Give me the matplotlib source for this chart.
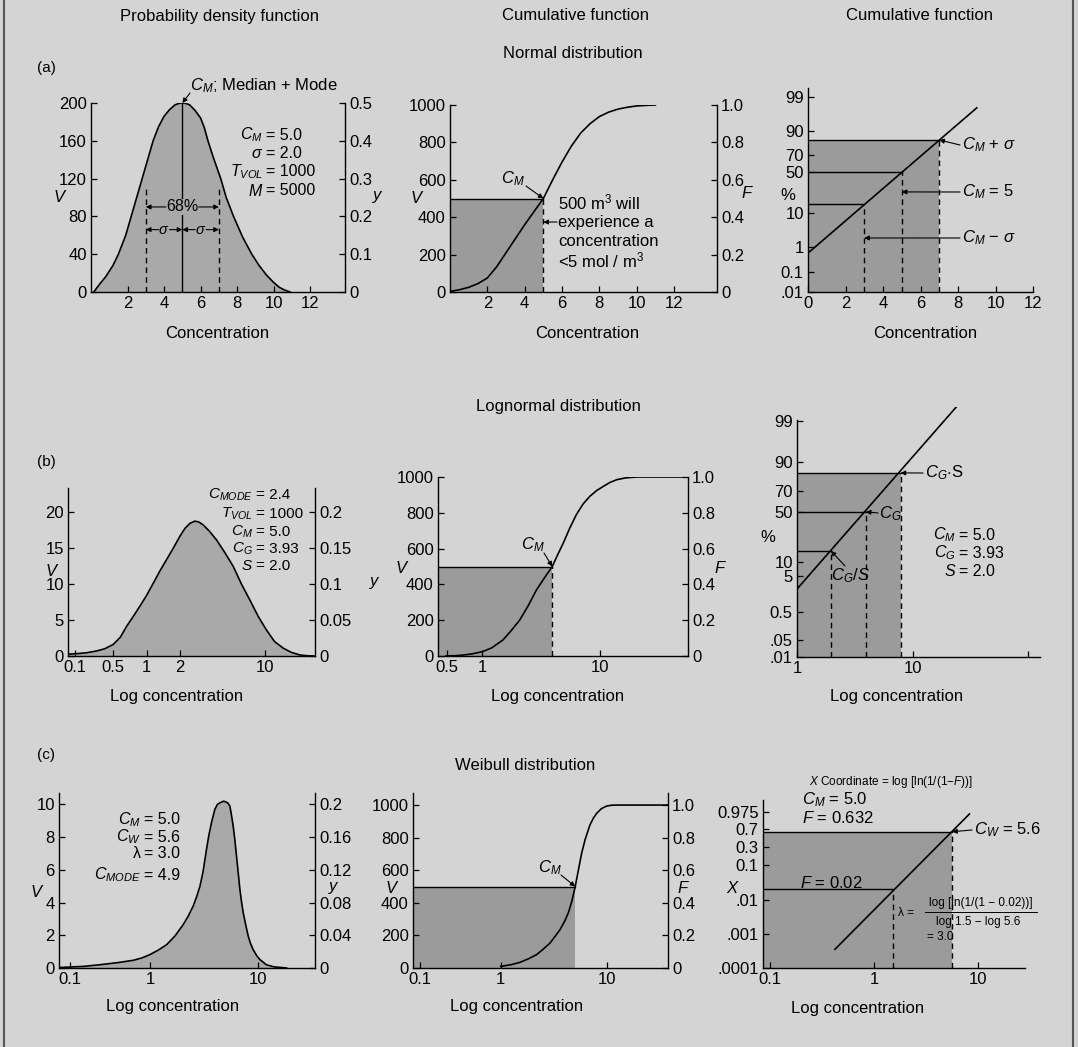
import math
import numpy as np
import matplotlib
matplotlib.use("Agg")
import matplotlib.pyplot as plt
from matplotlib.lines import Line2D
from matplotlib.ticker import NullLocator

W, H = 1078, 1047
BG = "#d4d4d4"
FILL = "#a9a9a9"
RECT = "#9b9b9b"
FS = 12

plt.rcParams["font.family"] = ["Liberation Sans", "DejaVu Sans"]
plt.rcParams["mathtext.fontset"] = "custom"
plt.rcParams["mathtext.rm"] = "Liberation Sans"
plt.rcParams["mathtext.it"] = "Liberation Sans:italic"
plt.rcParams["mathtext.bf"] = "Liberation Sans:bold"

# ---- (a) normal distribution ----
pdf_a_x = [0.15, 0.5, 0.8, 1.2, 1.5, 1.9, 2.2, 2.5, 2.8, 3.1, 3.4, 3.7, 4.0, 4.3, 4.6, 4.8, 5.0,
           5.2, 5.4, 5.7, 6.0, 6.2, 6.4, 6.7, 7.1, 7.4, 7.8, 8.3, 8.8, 9.2, 9.6, 10.0, 10.3, 10.6, 10.9]
pdf_a_v = [0, 9, 16, 28, 40, 60, 80, 100, 120, 140, 160, 175, 186, 193, 198, 199.5, 200,
           199.5, 198, 192, 184, 174, 160, 142, 120, 100, 80, 58, 40, 28, 18, 10, 5, 2, 0]
cdf_a_x = [0.05, 0.5, 1.0, 1.5, 2.0, 2.5, 3.0, 3.5, 4.0, 4.5, 5.0, 5.5, 6.0, 6.5, 7.0, 7.5,
           8.0, 8.5, 9.0, 9.5, 10.0, 10.5, 11.0]
cdf_a_v = [4, 12, 25, 45, 75, 135, 210, 285, 360, 430, 500, 600, 695, 780, 850, 900,
           938, 962, 978, 988, 995, 998, 1000]
prob_a_x = [0, 9]
prob_a_pct = [0.6, 97.7]
level_a_x = [3, 5, 7]
level_a_pct = [15.9, 50, 84.1]

# ---- (b) lognormal distribution ----
pdf_b_x = [0.075, 0.12, 0.164, 0.25, 0.35, 0.5, 0.58, 0.66, 0.76, 0.87, 1.0, 1.15, 1.32, 1.52,
           1.75, 2.0, 2.2, 2.42, 2.65, 2.85, 3.1, 3.5, 4.0, 4.7, 5.5, 6.4, 7.5, 8.8, 10.3, 12.0,
           14.2, 16.5, 19.4, 22.5, 25.8]
pdf_b_v = [0.25, 0.35, 0.45, 0.7, 1.0, 1.6, 2.6, 4.1, 5.5, 6.9, 8.4, 10.1, 11.8, 13.4,
           15.0, 16.6, 17.7, 18.4, 18.7, 18.6, 18.2, 17.3, 16.1, 14.3, 12.4, 10.0, 7.8, 5.5, 3.6, 2.0,
           1.07, 0.5, 0.14, 0.03, 0]
cdf_b_x = [0.49, 0.6, 0.68, 0.82, 1.0, 1.2, 1.5, 1.75, 2.08, 2.45, 2.89, 3.4, 3.93, 4.4, 4.87,
           5.5, 6.3, 7.2, 8.2, 9.4, 10.7, 12.2, 13.9, 16.5, 20.5, 56]
cdf_b_v = [0, 2, 5, 12, 24, 45, 90, 140, 201, 280, 370, 440, 500, 570, 630,
           710, 790, 850, 892, 925, 948, 970, 985, 995, 1000, 1000]
prob_b_x = [1.0, 24.8]
prob_b_pct = [2.4, 99.7]
level_b_x = [1.965, 3.93, 7.86]
level_b_pct = [15.9, 50, 84.1]

# ---- (c) Weibull distribution ----
pdf_c_x = [0.075, 0.15, 0.237, 0.4, 0.62, 0.8, 1.0, 1.2, 1.43, 1.7, 2.03, 2.25, 2.51, 2.7, 2.9,
           3.1, 3.33, 3.5, 3.71, 3.98, 4.2, 4.43, 4.8, 5.1, 5.3, 5.48, 5.65, 5.88, 6.1, 6.31, 6.55,
           6.78, 7.0, 7.28, 7.7, 8.1, 8.5, 9.0, 9.7, 10.4, 11.9, 14.0, 18.3]
pdf_c_v = [0.03, 0.1, 0.2, 0.33, 0.47, 0.62, 0.82, 1.1, 1.43, 1.95, 2.65, 3.15, 3.78, 4.35, 5.0,
           5.9, 7.24, 8.1, 8.9, 9.7, 10.0, 10.1, 10.2, 10.14, 10.05, 9.9, 9.4, 8.67, 7.8, 6.84, 5.8,
           4.8, 4.1, 3.37, 2.6, 1.94, 1.5, 1.12, 0.75, 0.51, 0.2, 0.07, 0]
cdf_c_x = [1.0, 1.25, 1.52, 1.8, 2.17, 2.5, 2.9, 3.2, 3.6, 4.0, 4.3, 4.65, 5.0, 5.35, 5.74, 6.2,
           6.87, 7.4, 7.94, 8.8, 9.86, 11.0, 12.2, 37]
cdf_c_v = [10, 20, 35, 55, 82, 115, 153, 190, 235, 290, 337, 410, 500, 600, 704, 790,
           878, 920, 949, 978, 994, 999, 1000, 1000]
weib_c_x = [0.42, 8.2]
weib_c_F = [0.000354, 0.9635]
level_c_x = [1.5, 5.6]
level_c_F = [0.02, 0.632]


# ---- scales ----
_erf = np.vectorize(math.erf, otypes=[float])


def phi_pct(z):
    return 50.0 * (1.0 + _erf(np.asarray(z, float) / math.sqrt(2.0)))


def probit_pct(p):
    p = np.clip(np.asarray(p, float), 1e-10, 100 - 1e-10)
    lo = np.full(p.shape, -8.0)
    hi = np.full(p.shape, 8.0)
    for _ in range(45):
        mid = 0.5 * (lo + hi)
        below = phi_pct(mid) < p
        lo = np.where(below, mid, lo)
        hi = np.where(below, hi, mid)
    return 0.5 * (lo + hi)


def weib_fwd(F):
    F = np.clip(np.asarray(F, float), 1e-12, 1 - 1e-12)
    return np.log10(-np.log1p(-F))


def weib_inv(w):
    return 1.0 - np.exp(-10.0 ** np.asarray(w, float))


def warp_scale(ax, vals, pos):
    # hand-drawn log axes: decades are not equally long
    lv = np.log10(vals)
    pos = np.asarray(pos, float)
    fwd = lambda x: np.interp(np.log10(np.clip(np.asarray(x, float), 1e-12, None)), lv, pos)
    inv = lambda q: 10.0 ** np.interp(np.asarray(q, float), pos, lv)
    ax.set_xscale("function", functions=(fwd, inv))


# ---- helpers ----
fig = plt.figure(figsize=(W / 100, H / 100), dpi=100)
fig.patch.set_facecolor(BG)

ARROW = dict(arrowstyle="-|>", lw=0.8, color="k", mutation_scale=7, shrinkA=0, shrinkB=0)


def px_axes(l, t, r, b):
    return fig.add_axes([l / W, 1 - b / H, (r - l) / W, (b - t) / H])


def ftext(x, y, s, ha="center", va="center", size=FS, **kw):
    fig.text(x / W, 1 - y / H, s, ha=ha, va=va, size=size, **kw)


def arrow(ax, xy, x, y):
    ax.annotate("", xy=xy, xycoords="data", xytext=(x, H - y), textcoords="figure pixels",
                arrowprops=ARROW)


def style(ax):
    ax.set_facecolor("none")
    for s in ["top", "right"]:
        ax.spines[s].set_visible(False)
    for s in ["left", "bottom"]:
        ax.spines[s].set_linewidth(1.0)
    ax.tick_params(direction="in", length=4, width=0.9, labelsize=FS, pad=3)
    ax.xaxis.set_minor_locator(NullLocator())
    ax.yaxis.set_minor_locator(NullLocator())


def twin(ax, lim, ticks, labels):
    tw = ax.twinx()
    for s in ["left", "top", "bottom"]:
        tw.spines[s].set_visible(False)
    tw.spines["right"].set_linewidth(1.0)
    tw.set_ylim(*lim)
    tw.set_yticks(ticks, labels)
    tw.tick_params(direction="in", length=4, width=0.9, labelsize=FS, pad=3)
    tw.yaxis.set_minor_locator(NullLocator())
    return tw


def block(xeq, ys, labels, values, size=11.5):
    for y, lab, val in zip(ys, labels, values):
        ftext(xeq - 2, y, lab, ha="right", size=size)
        ftext(xeq + 1, y, "= " + val, ha="left", size=size)


# ================= (a) =================
ax = px_axes(91, 103, 345, 292)
style(ax)
ax.fill_between(pdf_a_x, pdf_a_v, color=FILL, lw=0)
ax.plot(pdf_a_x, pdf_a_v, color="k", lw=1.2)
ax.plot([5, 5], [0, 200], color="k", lw=1.0)
for xv in [3, 7]:
    ax.plot([xv, xv], [0, 112], color="k", lw=1.0, ls=(0, (4, 3)))
ax.text(5, 90, "68%", ha="center", va="center", size=11.5,
        bbox=dict(facecolor=FILL, edgecolor="none", pad=0.5))
arrow(ax, (3, 90), 91 + 4.1 * 18.27, 292 - 90 * 0.945)
arrow(ax, (7, 90), 91 + 5.9 * 18.27, 292 - 90 * 0.945)
for c in [4, 6]:
    ax.text(c, 66, r"$\sigma$", ha="center", va="center", size=10.5)
    arrow(ax, (c - 1, 66), 91 + (c - 0.3) * 18.27, 292 - 66 * 0.945)
    arrow(ax, (c + 1, 66), 91 + (c + 0.3) * 18.27, 292 - 66 * 0.945)
ax.set_xlim(0, 13.9)
ax.set_ylim(0, 200)
ax.set_xticks([2, 4, 6, 8, 10, 12])
ax.set_yticks([0, 40, 80, 120, 160, 200])
twin(ax, (0, 0.5), [0, 0.1, 0.2, 0.3, 0.4, 0.5], ["0", "0.1", "0.2", "0.3", "0.4", "0.5"])
ftext(190, 86, r"$C_M$; Median + Mode", ha="left")
arrow(ax, (5, 200), 190, 93)
block(265, [135, 153, 172, 191], [r"$C_M$", r"$\sigma$", r"$T_{VOL}$", r"$M$"],
      ["5.0", "2.0", "1000", "5000"])

ax = px_axes(450, 105, 717, 292)
style(ax)
ax.fill_between([0, 5], 0, 500, color=RECT, lw=0)
ax.plot([0, 5], [500, 500], color="k", lw=1.0)
ax.plot([5, 5], [0, 500], color="k", lw=1.0, ls=(0, (4, 3)))
ax.plot(cdf_a_x, cdf_a_v, color="k", lw=1.2)
ax.set_xlim(0, 14.3)
ax.set_ylim(0, 1000)
ax.set_xticks([2, 4, 6, 8, 10, 12])
ax.set_yticks([0, 200, 400, 600, 800, 1000])
twin(ax, (0, 1), [0, 0.2, 0.4, 0.6, 0.8, 1.0], ["0", "0.2", "0.4", "0.6", "0.8", "1.0"])
ftext(513, 179, r"$C_M$")
arrow(ax, (5, 500), 526, 186)
for y, s in zip([202, 222, 241, 260],
                [r"500 m$^3$ will", "experience a", "concentration", r"<5 mol / m$^3$"]):
    ftext(558, y, s, ha="left")
arrow(ax, (5, 374), 557, 222)

ax = px_axes(808, 88, 1033, 292)
style(ax)
ax.set_yscale("function", functions=(probit_pct, phi_pct))
ax.fill_between([0, 7], 0.01, 84.1, color=RECT, lw=0)
for xv, pv in zip(level_a_x, level_a_pct):
    ax.plot([0, xv], [pv, pv], color="k", lw=1.0)
    ax.plot([xv, xv], [0.01, pv], color="k", lw=1.0, ls=(0, (4, 3)))
ax.plot(prob_a_x, prob_a_pct, color="k", lw=1.2)
ax.set_xlim(0, 12)
ax.set_ylim(0.01, 99.55)
ax.set_xticks([0, 2, 4, 6, 8, 10, 12])
ax.set_yticks([0.01, 0.1, 1, 10, 50, 70, 90, 99], [".01", "0.1", "1", "10", "50", "70", "90", "99"])
ax.yaxis.set_minor_locator(NullLocator())
ftext(962, 145, r"$C_M$ + $\sigma$", ha="left")
arrow(ax, (7, 84.1), 960, 145)
ftext(962, 192, r"$C_M$ = 5", ha="left")
arrow(ax, (5, 27), 960, 192)
ftext(962, 238, r"$C_M$ $-$ $\sigma$", ha="left")
arrow(ax, (3, 2.05), 960, 238)

# ================= (b) =================
ax = px_axes(68, 488, 315, 656)
style(ax)
warp_scale(ax, [0.05, 0.1, 0.5, 1, 2, 10, 40], [58.5, 75, 113.3, 146.7, 180, 265, 338.2])
ax.fill_between(pdf_b_x, pdf_b_v, color=FILL, lw=0)
ax.plot(pdf_b_x, pdf_b_v, color="k", lw=1.2)
ax.set_xlim(0.075, 25.8)
ax.set_ylim(0, 23.3)
ax.set_xticks([0.1, 0.5, 1, 2, 10], ["0.1", "0.5", "1", "2", "10"])
ax.xaxis.set_minor_locator(NullLocator())
ax.set_yticks([0, 5, 10, 15, 20])
twin(ax, (0, 0.233), [0, 0.05, 0.1, 0.15, 0.2], ["0", "0.05", "0.1", "0.15", "0.2"])
block(255, [495, 514, 532, 549, 566],
      [r"$C_{MODE}$", r"$T_{VOL}$", r"$C_M$", r"$C_G$", r"$S$"],
      ["2.4", "1000", "5.0", "3.93", "2.0"], size=11)

ax = px_axes(438, 477, 688, 656)
style(ax)
ax.set_xscale("log")
ax.fill_between([0.42, 3.93], 0, 500, color=RECT, lw=0)
ax.plot([0.42, 3.93], [500, 500], color="k", lw=1.0)
ax.plot([3.93, 3.93], [0, 500], color="k", lw=1.0, ls=(0, (4, 3)))
ax.plot(cdf_b_x, cdf_b_v, color="k", lw=1.2)
ax.set_xlim(0.42, 56)
ax.set_ylim(0, 1000)
ax.set_xticks([0.5, 1, 10], ["0.5", "1", "10"])
ax.xaxis.set_minor_locator(NullLocator())
ax.set_yticks([0, 200, 400, 600, 800, 1000])
twin(ax, (0, 1), [0, 0.2, 0.4, 0.6, 0.8, 1.0], ["0", "0.2", "0.4", "0.6", "0.8", "1.0"])
ftext(533, 545, r"$C_M$")
arrow(ax, (3.93, 500), 544, 553)

ax = px_axes(797, 407, 1040, 657)
style(ax)
ax.set_xscale("log")
ax.set_yscale("function", functions=(probit_pct, phi_pct))
ax.fill_between([1, 7.86], 0.01, 84.1, color=RECT, lw=0)
for xv, pv in zip(level_b_x, level_b_pct):
    ax.plot([1, xv], [pv, pv], color="k", lw=1.0)
    ax.plot([xv, xv], [0.01, pv], color="k", lw=1.0, ls=(0, (4, 3)))
ax.plot(prob_b_x, prob_b_pct, color="k", lw=1.2)
ax.set_xlim(1, 126)
ax.set_ylim(0.01, 99.64)
ax.spines["left"].set_bounds(0.01, 99.09)
ax.set_xticks([1, 10, 100], ["1", "10", ""])
ax.xaxis.set_minor_locator(NullLocator())
ax.set_yticks([0.01, 0.05, 0.5, 5, 10, 50, 70, 90, 99],
              [".01", ".05", "0.5", "5", "10", "50", "70", "90", "99"])
ax.yaxis.set_minor_locator(NullLocator())
ftext(925, 473, r"$C_G$$\cdot$S", ha="left")
arrow(ax, (7.86, 84.1), 923, 473)
ftext(879, 514, r"$C_G$", ha="left")
arrow(ax, (3.93, 50), 878, 513)
ftext(831, 576, r"$C_G/S$", ha="left")
arrow(ax, (1.965, 15.9), 845, 566)
block(958, [535, 553, 571], [r"$C_M$", r"$C_G$", r"$S$"], ["5.0", "3.93", "2.0"], size=11.5)

# ================= (c) =================
ax = px_axes(59, 793, 315, 968)
style(ax)
warp_scale(ax, [0.05, 0.1, 1, 10, 50], [45.9, 70, 150, 258.3, 334])
ax.fill_between(pdf_c_x, pdf_c_v, color=FILL, lw=0)
ax.plot(pdf_c_x, pdf_c_v, color="k", lw=1.2)
ax.set_xlim(0.073, 33.5)
ax.set_ylim(0, 10.7)
ax.set_xticks([0.1, 1, 10], ["0.1", "1", "10"])
ax.xaxis.set_minor_locator(NullLocator())
ax.set_yticks([0, 2, 4, 6, 8, 10])
twin(ax, (0, 0.214), [0, 0.04, 0.08, 0.12, 0.16, 0.2], ["0", "0.04", "0.08", "0.12", "0.16", "0.2"])
block(143, [820, 837, 853, 875], [r"$C_M$", r"$C_W$", "λ", r"$C_{MODE}$"],
      ["5.0", "5.6", "3.0", "4.9"])

ax = px_axes(413, 793, 668, 968)
style(ax)
warp_scale(ax, [0.05, 0.1, 1, 10, 50], [395.7, 420, 500.7, 607.3, 681.9])
ax.fill_between([0.082, 5], 0, 500, color=RECT, lw=0)
ax.plot([0.082, 5], [500, 500], color="k", lw=1.0)
ax.plot(cdf_c_x, cdf_c_v, color="k", lw=1.2)
ax.set_xlim(0.082, 37)
ax.set_ylim(0, 1074)
ax.set_xticks([0.1, 1, 10], ["0.1", "1", "10"])
ax.xaxis.set_minor_locator(NullLocator())
ax.set_yticks([0, 200, 400, 600, 800, 1000])
twin(ax, (0, 1.074), [0, 0.2, 0.4, 0.6, 0.8, 1.0], ["0", "0.2", "0.4", "0.6", "0.8", "1.0"])
ftext(550, 868, r"$C_M$")
arrow(ax, (5, 500), 561, 875)

ax = px_axes(763, 800, 1025, 968)
style(ax)
ax.set_xscale("log")
ax.set_yscale("function", functions=(weib_fwd, weib_inv))
ax.fill_between([0.0857, 5.6], 0.0001, 0.632, color=RECT, lw=0)
for xv, fv in zip(level_c_x, level_c_F):
    ax.plot([0.0857, xv], [fv, fv], color="k", lw=1.0)
    ax.plot([xv, xv], [0.0001, fv], color="k", lw=1.0, ls=(0, (4, 3)))
ax.plot(weib_c_x, weib_c_F, color="k", lw=1.2)
ax.set_xlim(0.0857, 28)
ax.set_ylim(0.0001, 0.9998)
ax.set_xticks([0.1, 1, 10], ["0.1", "1", "10"])
ax.xaxis.set_minor_locator(NullLocator())
ax.set_yticks([0.0001, 0.001, 0.01, 0.1, 0.3, 0.7, 0.975],
              [".0001", ".001", ".01", "0.1", "0.3", "0.7", "0.975"])
ax.yaxis.set_minor_locator(NullLocator())
ftext(891, 782, r"$X$ Coordinate = log [ln(1/(1$-$$F$))]", size=8.5)
ftext(802, 800, r"$C_M$ = 5.0", ha="left")
ftext(802, 818, r"$F$ = 0.632", ha="left")
ftext(974, 830, r"$C_W$ = 5.6", ha="left")
arrow(ax, (5.6, 0.632), 972, 830)
ftext(800, 883, r"$F$ = 0.02", ha="left")
ftext(906, 913, "λ =", size=8.5)
ftext(981, 903, "log [ln(1/(1 − 0.02))]", size=8.5)
ftext(978, 922, "log 1.5 − log 5.6", size=8.5)
ftext(940, 937, "= 3.0", size=8.5)
fig.add_artist(Line2D([925 / W, 1037 / W], [1 - 912 / H, 1 - 912 / H], color="k", lw=0.7))

# ================= figure labels =================
ftext(220, 16, "Probability density function")
ftext(575, 16, "Cumulative function")
ftext(920, 16, "Cumulative function")
ftext(573, 54, "Normal distribution")
ftext(558, 407, "Lognormal distribution")
ftext(525, 765, "Weibull distribution")
ftext(46, 68, "(a)", size=11)
ftext(46, 462, "(b)", size=11)
ftext(46, 755, "(c)", size=11)

for x, y in [(217, 333), (587, 333), (925, 333)]:
    ftext(x, y, "Concentration")
for x, y in [(177, 697), (558, 697), (897, 697), (173, 1007), (517, 1007), (858, 1008)]:
    ftext(x, y, "Log concentration")

for x, y, s in [(60, 197, "V"), (378, 197, "y"), (417, 198, "V"), (747, 193, "F"), (788, 196, "%"),
                (52, 571, "V"), (375, 583, "y"), (402, 568, "V"), (720, 568, "F"), (768, 537, "%"),
                (37, 892, "V"), (334, 888, "y"), (392, 888, "V"), (683, 888, "F"), (733, 888, "X")]:
    ftext(x, y, s if s == "%" else "$" + s + "$")

for xe in [4, 1073]:
    fig.add_artist(Line2D([xe / W, xe / W], [0, 1], color="#555555", lw=1.5))

fig.savefig("out.png", dpi=100, facecolor=BG)
